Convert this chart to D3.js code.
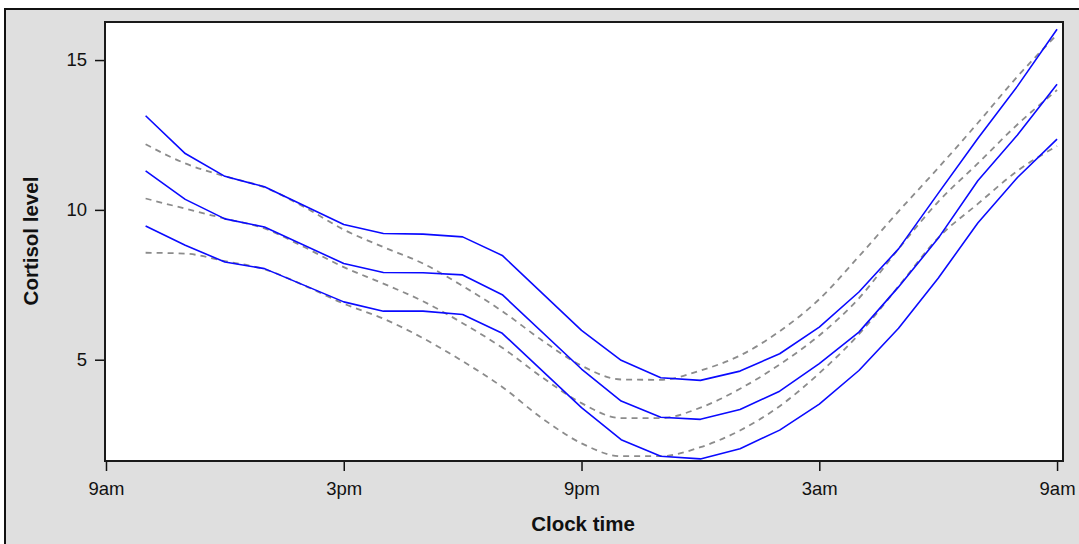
<!DOCTYPE html>
<html lang="en">
<head>
    <meta charset="UTF-8">
    <title>Cortisol level by clock time</title>
    <script src="https://d3js.org/d3.v7.min.js"></script>
    <style>
      body { margin: 0; background: #fff; }
      text { font-family: "Liberation Sans", Arial, sans-serif; }
    </style>
</head>
<body>
<div class="chart"></div>
<script>
  // hours after 9am (1 = 10am ... 24 = 9am next day)
  const hours = [1,2,3,4,5,6,7,8,9,10,11,12,13,14,15,16,17,18,19,20,21,22,23,24];

  // observed series (solid blue) - null where no vertex is drawn
  const obsUpper = [13.14,11.88,11.12,10.77,null,9.51,9.21,9.19,9.10,8.48,null,5.98,4.98,4.40,4.31,4.62,5.20,6.09,7.26,8.70,10.55,12.38,14.13,16.03];
  const obsMid   = [11.30,10.35,9.70,9.43,null,8.21,7.91,7.90,7.83,7.17,null,4.69,3.62,3.08,3.01,3.34,3.95,4.87,5.92,7.43,9.05,10.97,12.50,14.19];
  const obsLower = [9.46,8.82,8.26,8.04,null,6.93,6.62,6.62,6.51,5.88,null,3.40,2.33,1.78,1.69,2.03,2.65,3.52,4.64,6.05,7.72,9.56,11.08,12.36];

  // fitted series (dashed grey)
  const fitUpper = [12.19,11.55,11.12,10.75,10.10,9.34,8.76,8.21,7.46,6.62,5.65,4.80,4.34,4.33,4.64,5.14,5.95,7.02,8.45,9.95,11.40,12.90,14.45,15.85];
  const fitMid   = [10.38,10.04,9.71,9.38,8.76,8.09,7.54,6.95,6.22,5.40,4.42,3.55,3.05,3.05,3.40,4.03,4.84,5.81,7.05,8.70,10.27,11.55,12.85,14.00];
  const fitLower = [8.57,8.54,8.29,8.02,7.48,6.87,6.37,5.72,4.95,4.09,3.05,2.21,1.78,1.78,2.08,2.64,3.45,4.55,5.85,7.45,9.07,10.20,11.30,12.13];

  const xTicks = [0, 6, 12, 18, 24];
  const xTickLabels = ['9am', '3pm', '9pm', '3am', '9am'];
  const yTicks = [5, 10, 15];

  const W = 1079, H = 544;
  const plot = {left: 105, top: 22, right: 1063, bottom: 461};

  const svg = d3.select('.chart').append('svg')
    .attr('width', W).attr('height', H);

  svg.append('rect')
    .attr('x', 5).attr('y', 9).attr('width', W + 10).attr('height', H + 10)
    .attr('fill', '#dfdfdf').attr('stroke', '#111').attr('stroke-width', 2);

  svg.append('rect')
    .attr('x', plot.left).attr('y', plot.top)
    .attr('width', plot.right - plot.left).attr('height', plot.bottom - plot.top)
    .attr('fill', '#fff').attr('stroke', '#1a1a1a').attr('stroke-width', 2);

  const x = d3.scaleLinear().domain([-0.025, 24.15]).range([plot.left, plot.right]);
  const y = d3.scaleLinear().domain([1.62, 16.27]).range([plot.bottom, plot.top]);

  const toPts = vals => hours.map((h, i) => ({h, v: vals[i]})).filter(d => d.v != null);

  const straight = d3.line().x(d => x(d.h)).y(d => y(d.v));
  const smooth = d3.line().x(d => x(d.h)).y(d => y(d.v)).curve(d3.curveMonotoneX);

  [fitUpper, fitMid, fitLower].forEach(s => {
    svg.append('path').attr('d', smooth(toPts(s)))
      .attr('fill', 'none').attr('stroke', '#8c8c8c')
      .attr('stroke-width', 1.8).attr('stroke-dasharray', '6,5');
  });

  [obsUpper, obsMid, obsLower].forEach(s => {
    svg.append('path').attr('d', straight(toPts(s)))
      .attr('fill', 'none').attr('stroke', '#0a0aff')
      .attr('stroke-width', 1.6).attr('stroke-linejoin', 'round');
  });

  const yAxis = d3.axisLeft(y).tickValues(yTicks).tickSize(9).tickPadding(8);
  const xAxis = d3.axisBottom(x).tickValues(xTicks)
    .tickFormat((d, i) => xTickLabels[i]).tickSize(9).tickPadding(11);

  const gy = svg.append('g').attr('transform', `translate(${plot.left - 1} 0)`).call(yAxis);
  const gx = svg.append('g').attr('transform', `translate(0 ${plot.bottom + 1})`).call(xAxis);
  [gy, gx].forEach(g => {
    g.select('.domain').remove();
    g.selectAll('line').attr('stroke', '#111').attr('stroke-width', 1.5);
    g.selectAll('text').attr('fill', '#111').style('font-size', '18.5px')
      .style('font-family', '"Liberation Sans", Arial, sans-serif');
  });

  svg.append('text')
    .attr('x', (plot.left + plot.right) / 2 - 1).attr('y', 531)
    .attr('text-anchor', 'middle').attr('fill', '#111')
    .style('font-size', '20.5px').style('font-weight', 'bold')
    .text('Clock time');

  svg.append('text')
    .attr('transform', 'translate(38 241) rotate(-90)')
    .attr('text-anchor', 'middle').attr('fill', '#111')
    .style('font-size', '20.5px').style('font-weight', 'bold')
    .text('Cortisol level');
</script>
</body>
</html>
